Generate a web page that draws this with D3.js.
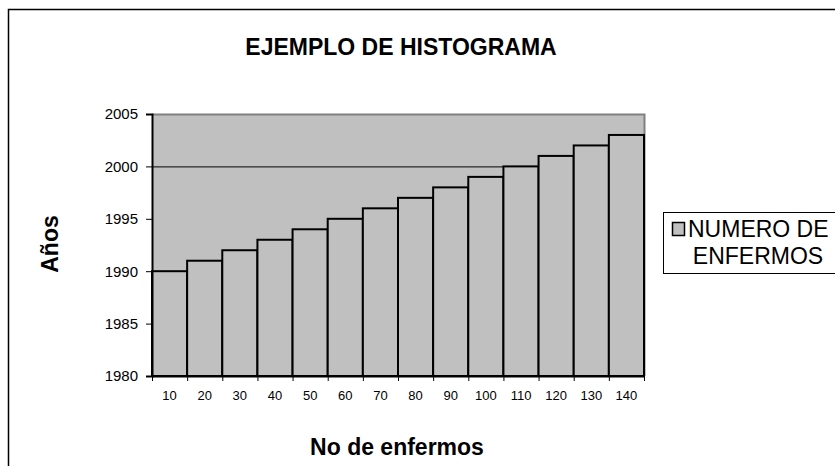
<!DOCTYPE html>
<html>
<head>
<meta charset="utf-8">
<script src="https://cdn.jsdelivr.net/npm/d3@7"></script>
<style>
  body { margin: 0; background: #fff; }
  svg text { font-family: "Liberation Sans", Arial, sans-serif; fill: #000; }
</style>
</head>
<body>
<div id="grafico"></div>
<script>
// Datos del histograma
const categorias = [10, 20, 30, 40, 50, 60, 70, 80, 90, 100, 110, 120, 130, 140];
const anios = [1990, 1991, 1992, 1993, 1994, 1995, 1996, 1997, 1998, 1999, 2000, 2001, 2002, 2003];
const ticksY = [1980, 1985, 1990, 1995, 2000, 2005];
const lineasGuia = [2000];
const leyenda = ["NUMERO DE", "ENFERMOS"];

const ancho = 835, alto = 466;
const area = { left: 152, right: 644, top: 114, bottom: 376 };

const svg = d3.select("#grafico").append("svg")
  .attr("width", ancho)
  .attr("height", alto);

// marco exterior del gráfico
svg.append("rect")
  .attr("x", 8.5).attr("y", 9.5)
  .attr("width", 900).attr("height", 600)
  .attr("fill", "#fff")
  .attr("stroke", "#000")
  .attr("stroke-width", 1.5);

// escalas
const x = d3.scaleBand().domain(categorias).range([area.left, area.right]).padding(0);
const y = d3.scaleLinear().domain([1980, 2005]).range([area.bottom, area.top]);

// fondo del área de trazado
svg.append("rect")
  .attr("x", area.left).attr("y", area.top)
  .attr("width", area.right - area.left)
  .attr("height", area.bottom - area.top)
  .attr("fill", "#c0c0c0");

// borde gris arriba y derecha
svg.append("path")
  .attr("d", `M${area.left},${area.top + 0.5}H${area.right + 0.5}V${area.bottom}`)
  .attr("fill", "none")
  .attr("stroke", "#808080")
  .attr("stroke-width", 2);

// líneas de división
svg.selectAll(".guia").data(lineasGuia).enter().append("line")
  .attr("class", "guia")
  .attr("x1", area.left).attr("x2", area.right)
  .attr("y1", d => y(d) + 0.5).attr("y2", d => y(d) + 0.5)
  .attr("stroke", "#000")
  .attr("stroke-width", 1);

// barras
svg.selectAll(".barra").data(anios).enter().append("rect")
  .attr("class", "barra")
  .attr("x", (d, i) => x(categorias[i]))
  .attr("y", d => y(d))
  .attr("width", x.bandwidth())
  .attr("height", d => y(1980) - y(d))
  .attr("fill", "#c0c0c0")
  .attr("stroke", "#000")
  .attr("stroke-width", 2);

// eje Y
const ejeY = svg.append("g")
  .attr("transform", `translate(${area.left},0)`)
  .call(d3.axisLeft(y).tickValues(ticksY).tickFormat(d3.format("d")).tickSize(6).tickPadding(8));
ejeY.selectAll("text").style("font-size", "15px");
ejeY.select(".domain").attr("stroke-width", 2);

// eje X: etiquetas centradas en cada barra
const ejeX = svg.append("g")
  .attr("transform", `translate(0,${area.bottom})`)
  .call(d3.axisBottom(x).tickSizeInner(0).tickSizeOuter(0).tickPadding(15));
ejeX.selectAll("text").style("font-size", "13px");
ejeX.select(".domain").attr("stroke-width", 2);

// marcas del eje X entre barras
const limites = d3.scaleLinear().domain([0, categorias.length]).range([area.left, area.right]);
svg.append("g")
  .attr("transform", `translate(0,${area.bottom})`)
  .call(d3.axisBottom(limites).tickValues(d3.range(categorias.length + 1)).tickFormat("").tickSize(5))
  .select(".domain").remove();

// título
svg.append("text")
  .attr("x", 401).attr("y", 55)
  .attr("text-anchor", "middle")
  .style("font-size", "23px")
  .style("font-weight", "bold")
  .text("EJEMPLO DE HISTOGRAMA");

// título del eje X
svg.append("text")
  .attr("x", 397).attr("y", 455)
  .attr("text-anchor", "middle")
  .style("font-size", "23px")
  .style("font-weight", "bold")
  .text("No de enfermos");

// título del eje Y
svg.append("text")
  .attr("transform", `translate(58,${(area.top + area.bottom) / 2 - 1}) rotate(-90)`)
  .attr("text-anchor", "middle")
  .style("font-size", "23px")
  .style("font-weight", "bold")
  .text("Años");

// leyenda
const ley = svg.append("g");
ley.append("rect")
  .attr("x", 663.5).attr("y", 212.5)
  .attr("width", 300).attr("height", 61)
  .attr("fill", "#fff")
  .attr("stroke", "#000")
  .attr("stroke-width", 1);
ley.append("rect")
  .attr("x", 672.5).attr("y", 222.5)
  .attr("width", 12).attr("height", 13)
  .attr("fill", "#c0c0c0")
  .attr("stroke", "#000")
  .attr("stroke-width", 1.5);
ley.append("text")
  .attr("x", 688).attr("y", 237)
  .style("font-size", "23px")
  .text(leyenda[0]);
ley.append("text")
  .attr("x", 758).attr("y", 264)
  .attr("text-anchor", "middle")
  .style("font-size", "23px")
  .text(leyenda[1]);
</script>
</body>
</html>
